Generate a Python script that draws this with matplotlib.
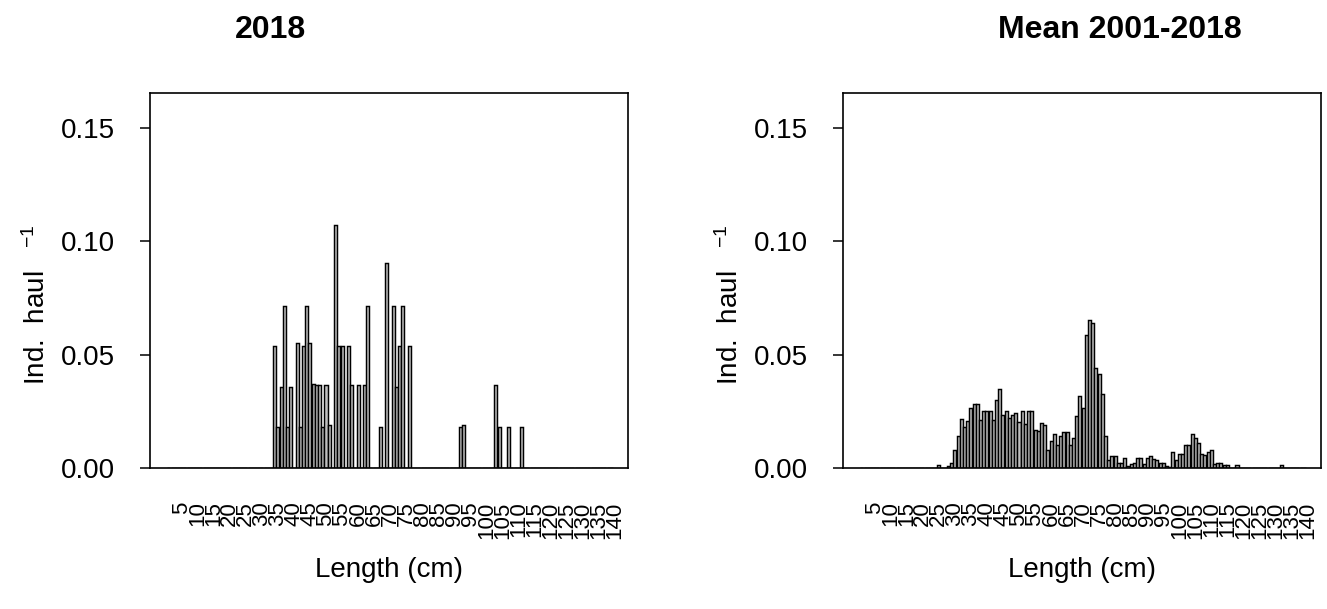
import numpy as np
import matplotlib
matplotlib.use("Agg")
import matplotlib.pyplot as plt

plt.rcParams['font.family'] = ['Liberation Sans', 'DejaVu Sans']
plt.rcParams['mathtext.fontset'] = 'custom'
plt.rcParams['mathtext.rm'] = 'Liberation Sans'
plt.rcParams['mathtext.it'] = 'Liberation Sans:italic'

# length classes (cm) and axis labels
lengths = np.arange(1, 140)
tick_pos = list(range(5, 145, 5))
tick_labels = [str(t) for t in tick_pos]

# 2018: non-zero length classes and ind. per haul
len_2018 = [34, 35, 36, 37, 38, 39, 41, 42, 43, 44, 45, 46, 47, 48, 49, 50, 51,
            53, 54, 55, 57, 58, 60, 62, 63, 67, 69, 71, 72, 73, 74, 76,
            92, 93, 103, 104, 107, 111]
val_2018 = [0.0536, 0.0179, 0.0357, 0.0714, 0.0179, 0.0357, 0.0553, 0.0179,
            0.0536, 0.0714, 0.0553, 0.0370, 0.0364, 0.0364, 0.0179, 0.0364,
            0.0189, 0.1071, 0.0536, 0.0536, 0.0536, 0.0364, 0.0364, 0.0364,
            0.0714, 0.0179, 0.0905, 0.0714, 0.0357, 0.0536, 0.0714, 0.0536,
            0.0179, 0.0189, 0.0364, 0.0179, 0.0179, 0.0179]

# mean 2001-2018
len_mean = [25, 28, 29, 30, 31, 32, 33, 34, 35, 36, 37, 38, 39, 40, 41, 42, 43,
            44, 45, 46, 47, 48, 49, 50, 51, 52, 53, 54, 55, 56, 57, 58, 59, 60,
            61, 62, 63, 64, 65, 66, 67, 68, 69, 70, 71, 72, 73, 74, 75, 76, 77,
            78, 79, 80, 81, 82, 83, 84, 85, 86, 87, 88, 89, 90, 91, 92, 93, 94,
            95, 96, 97, 98, 99, 100, 101, 102, 103, 104, 105, 106, 107, 108,
            109, 110, 111, 112, 113, 114, 115, 118, 132]
val_mean = [0.0015, 0.0007, 0.0020, 0.0078, 0.0140, 0.0218, 0.0180, 0.0206,
            0.0266, 0.0284, 0.0280, 0.0213, 0.0251, 0.0251, 0.0251, 0.0210,
            0.0299, 0.0347, 0.0235, 0.0251, 0.0220, 0.0232, 0.0244, 0.0203,
            0.0251, 0.0196, 0.0251, 0.0251, 0.0166, 0.0162, 0.0199, 0.0190,
            0.0078, 0.0118, 0.0149, 0.0103, 0.0141, 0.0159, 0.0159, 0.0103,
            0.0132, 0.0228, 0.0316, 0.0266, 0.0585, 0.0654, 0.0640, 0.0441,
            0.0416, 0.0324, 0.0140, 0.0037, 0.0053, 0.0053, 0.0022, 0.0022,
            0.0046, 0.0010, 0.0016, 0.0022, 0.0046, 0.0046, 0.0016, 0.0046,
            0.0053, 0.0040, 0.0037, 0.0022, 0.0022, 0.0010, 0.0006, 0.0071,
            0.0037, 0.0063, 0.0063, 0.0103, 0.0103, 0.0149, 0.0134, 0.0110,
            0.0063, 0.0056, 0.0071, 0.0078, 0.0019, 0.0022, 0.0022, 0.0012,
            0.0012, 0.0012, 0.0012]

titles = ['2018', 'Mean 2001-2018']


def full_series(lens, vals):
    y = np.zeros(len(lengths))
    for l, v in zip(lens, vals):
        y[l - 1] = v
    return y


W, H = 1327, 609
fig = plt.figure(figsize=(W / 100, H / 100), dpi=100)

# (axes left px, title centre px, data)
panels = [(150, 270, full_series(len_2018, val_2018)),
          (843, 1120, full_series(len_mean, val_mean))]

for (left, tx, y), title in zip(panels, titles):
    ax = fig.add_axes([left / W, 1 - 468 / H, 478 / W, (468 - 93) / H])
    ax.bar(lengths, y, width=0.95, color='#c0c0c0', edgecolor='black',
           linewidth=1.05)
    ax.set_xlim(-4.9, 144.2)
    ax.set_ylim(0, 0.1653)
    ax.set_yticks([0, 0.05, 0.10, 0.15])
    ax.set_yticklabels(['0.00', '0.05', '0.10', '0.15'], fontsize=20)
    ax.tick_params(axis='y', length=7, width=1.1, pad=18)
    ax.set_xticks(tick_pos)
    ax.set_xticklabels(tick_labels, rotation=90, fontsize=16)
    ax.tick_params(axis='x', length=0, pad=24)
    for s in ax.spines.values():
        s.set_linewidth(1.2)

    fig.text(tx / W, 1 - 30 / H, title, ha='center', va='center',
             fontsize=23, fontweight='bold')
    cx = (left + 239) / W
    fig.text(cx, 1 - 570 / H, 'Length (cm)', ha='center', va='center',
             fontsize=20)
    fig.text((left - 113) / W, 1 - 305 / H, r'Ind.  haul   $^{-1}$',
             rotation=90, ha='center', va='center', fontsize=20)

fig.savefig('out.png', dpi=100)
